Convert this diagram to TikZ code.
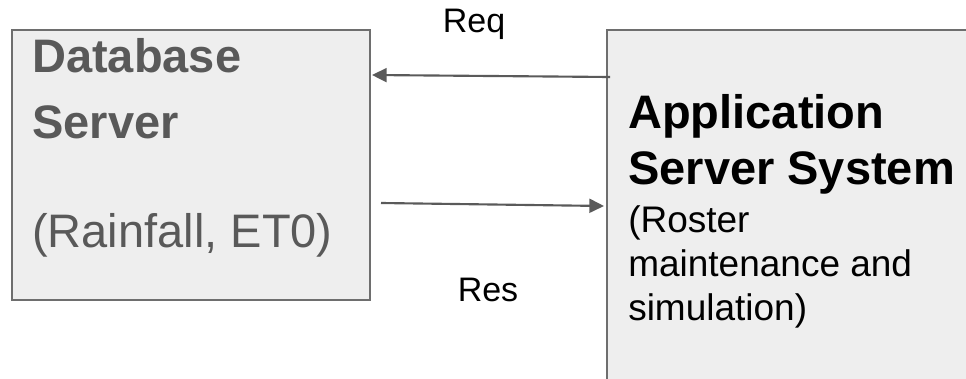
\documentclass[tikz,border=0pt]{standalone}
\usepackage{fontspec}
\setmainfont{Liberation Sans}
\usetikzlibrary{arrows.meta}

\definecolor{boxfill}{HTML}{EEEEEE}
\definecolor{boxline}{HTML}{6E6E6E}
\definecolor{dbtext}{HTML}{595959}
\definecolor{flowline}{HTML}{5A5A5A}

\tikzset{
  flow/.style={draw=flowline,line width=1.6pt,-{Triangle[length=11pt,width=10.5pt]}},
  bigbold/.style={font=\fontsize{35.25pt}{42pt}\selectfont\bfseries},
  bigplain/.style={font=\fontsize{35.25pt}{42pt}\selectfont},
  midplain/.style={font=\fontsize{27.75pt}{33pt}\selectfont},
  msglabel/.style={font=\fontsize{25.5pt}{30pt}\selectfont}
}

\begin{document}
\begin{tikzpicture}[x=0.75pt,y=-0.75pt]
  \useasboundingbox (0,0) rectangle (966,378);

  \begin{scope}[every node/.style={draw=boxline,fill=boxfill,line width=1.5pt,inner sep=0pt}]
    \node (db)  [minimum width=268.5pt,minimum height=202.5pt] at (191,165)   {};
    \node (app) [minimum width=287.25pt,minimum height=277.5pt] at (798.5,215) {};
  \end{scope}

  \begin{scope}[every node/.style={anchor=base west,inner sep=0pt}]
    \node (db1)  [bigbold,text=dbtext]  at (32,73)   {Database};
    \node (db2)  [bigbold,text=dbtext]  at (32,138)  {Server};
    \node (db3)  [bigplain,text=dbtext] at (32,247)  {(Rainfall, ET0)};
    \node (app1) [bigbold]              at (628,128) {Application};
    \node (app2) [bigbold]              at (628,184) {Server System};
    \node (app3) [midplain]             at (628,232) {(Roster};
    \node (app4) [midplain]             at (628,276) {maintenance and};
    \node (app5) [midplain]             at (628,320) {simulation)};
  \end{scope}

  \coordinate (reqfrom) at (610,77);
  \coordinate (reqto)   at (372,75);
  \coordinate (resfrom) at (381,203);
  \coordinate (resto)   at (604,206);

  \draw[flow] (reqfrom) -- (reqto);
  \draw[flow] (resfrom) -- (resto);

  \begin{scope}[every node/.style={anchor=base,inner sep=0pt,msglabel}]
    \node (req) at (474,33)  {Req};
    \node (res) at (488,301) {Res};
  \end{scope}

\end{tikzpicture}
\end{document}
